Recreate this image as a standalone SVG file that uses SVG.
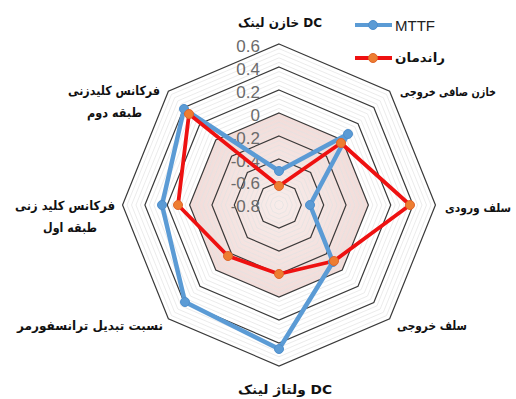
<svg xmlns="http://www.w3.org/2000/svg" xmlns:xlink="http://www.w3.org/1999/xlink" width="516" height="399" viewBox="0 0 516 399">
<style>
.bg{fill:#ffffff}
.major{fill:none;stroke:#3a3a3a;stroke-width:1.2}
.minor{fill:none;stroke:#e2e2e2;stroke-width:0.7}
.tick{font-family:"Liberation Sans",Arial,sans-serif;font-size:17px;fill:#6b6b6b;text-anchor:end}
.cat{font-family:"DejaVu Sans",sans-serif;font-size:12.5px;font-weight:bold;fill:#111111}
.catr{font-family:"DejaVu Sans",sans-serif;font-size:11.5px;font-weight:bold;fill:#111111}
.leg{font-family:"Liberation Sans",Arial,sans-serif;font-size:15px;fill:#222222}
.blue{fill:none;stroke:#5b9bd5;stroke-width:4.5;stroke-linejoin:round}
.red{fill:none;stroke:#ee1111;stroke-width:3.8;stroke-linejoin:round}
.bm{fill:#5b9bd5;stroke:#4f8fcc;stroke-width:1}
.rm{fill:#ed7d31;stroke:#e0652a;stroke-width:1}
</style>
<defs>
<polygon id="oct" points="0,-1 0.70711,-0.70711 1,0 0.70711,0.70711 0,1 -0.70711,0.70711 -1,0 -0.70711,-0.70711" vector-effect="non-scaling-stroke"/>
<radialGradient id="pink" cx="0.5" cy="0.5" r="0.5">
<stop offset="0" stop-color="#f8ecea"/>
<stop offset="1" stop-color="#f2dcd9"/>
</radialGradient>
</defs>
<rect class="bg" x="0" y="0" width="516" height="399"/>
<g id="plot-area">
<use xlink:href="#oct" href="#oct" transform="translate(279,205) scale(89.4,92)" fill="url(#pink)" stroke="none"/>
<g id="minor-grid" class="minor">
<use href="#oct" transform="translate(279,205) scale(4.47,4.6)"/>
<use href="#oct" transform="translate(279,205) scale(8.94,9.2)"/>
<use href="#oct" transform="translate(279,205) scale(13.41,13.8)"/>
<use href="#oct" transform="translate(279,205) scale(17.88,18.4)"/>
<use href="#oct" transform="translate(279,205) scale(26.82,27.6)"/>
<use href="#oct" transform="translate(279,205) scale(31.29,32.2)"/>
<use href="#oct" transform="translate(279,205) scale(35.76,36.8)"/>
<use href="#oct" transform="translate(279,205) scale(40.23,41.4)"/>
<use href="#oct" transform="translate(279,205) scale(49.17,50.6)"/>
<use href="#oct" transform="translate(279,205) scale(53.64,55.2)"/>
<use href="#oct" transform="translate(279,205) scale(58.11,59.8)"/>
<use href="#oct" transform="translate(279,205) scale(62.58,64.4)"/>
<use href="#oct" transform="translate(279,205) scale(71.52,73.6)"/>
<use href="#oct" transform="translate(279,205) scale(75.99,78.2)"/>
<use href="#oct" transform="translate(279,205) scale(80.46,82.8)"/>
<use href="#oct" transform="translate(279,205) scale(84.93,87.4)"/>
<use href="#oct" transform="translate(279,205) scale(93.87,96.6)"/>
<use href="#oct" transform="translate(279,205) scale(98.34,101.2)"/>
<use href="#oct" transform="translate(279,205) scale(102.81,105.8)"/>
<use href="#oct" transform="translate(279,205) scale(107.28,110.4)"/>
<use href="#oct" transform="translate(279,205) scale(116.22,119.6)"/>
<use href="#oct" transform="translate(279,205) scale(120.69,124.2)"/>
<use href="#oct" transform="translate(279,205) scale(125.16,128.8)"/>
<use href="#oct" transform="translate(279,205) scale(129.63,133.4)"/>
<use href="#oct" transform="translate(279,205) scale(138.57,142.6)"/>
<use href="#oct" transform="translate(279,205) scale(143.04,147.2)"/>
<use href="#oct" transform="translate(279,205) scale(147.51,151.8)"/>
<use href="#oct" transform="translate(279,205) scale(151.98,156.4)"/>
</g>
<g id="major-grid" class="major">
<use href="#oct" transform="translate(279,205) scale(22.35,23)"/>
<use href="#oct" transform="translate(279,205) scale(44.7,46)"/>
<use href="#oct" transform="translate(279,205) scale(67.05,69)"/>
<use href="#oct" transform="translate(279,205) scale(89.4,92)"/>
<use href="#oct" transform="translate(279,205) scale(111.75,115)"/>
<use href="#oct" transform="translate(279,205) scale(134.1,138)"/>
<use href="#oct" transform="translate(279,205) scale(156.45,161)"/>
</g>
<g id="axis-ticks">
<text class="tick" x="260" y="52">0.6</text>
<text class="tick" x="260" y="75">0.4</text>
<text class="tick" x="260" y="98">0.2</text>
<text class="tick" x="260" y="120.5">0</text>
<text class="tick" x="260" y="143.5">-0.2</text>
<text class="tick" x="260" y="166.5">-0.4</text>
<text class="tick" x="260" y="189">-0.6</text>
<text class="tick" x="260" y="212">-0.8</text>
</g>
</g>
<g id="connectors">
<polygon id="series-mttf" class="blue" points="279,171 348,134 310,205 333,262 279,349 185,302 162,205 184,109"/>
<polygon id="series-efficiency" class="red" points="279,186 341,143 410,205 334,261 279,274 228,256 178,205 189,114"/>
</g>
<g id="markers-mttf">
<circle class="bm" cx="279" cy="171" r="4.5"/>
<circle class="bm" cx="348" cy="134" r="4.5"/>
<circle class="bm" cx="310" cy="205" r="4.5"/>
<circle class="bm" cx="333" cy="262" r="4.5"/>
<circle class="bm" cx="279" cy="349" r="4.5"/>
<circle class="bm" cx="185" cy="302" r="4.5"/>
<circle class="bm" cx="162" cy="205" r="4.5"/>
<circle class="bm" cx="184" cy="109" r="4.5"/>
</g>
<g id="markers-efficiency">
<circle class="rm" cx="279" cy="186" r="4.5"/>
<circle class="rm" cx="341" cy="143" r="4.5"/>
<circle class="rm" cx="410" cy="205" r="4.5"/>
<circle class="rm" cx="334" cy="261" r="4.5"/>
<circle class="rm" cx="279" cy="274" r="4.5"/>
<circle class="rm" cx="228" cy="256" r="4.5"/>
<circle class="rm" cx="178" cy="205" r="4.5"/>
<circle class="rm" cx="189" cy="114" r="4.5"/>
</g>
<g id="label-dc-link-cap"><text class="cat" x="238" y="27" textLength="84" lengthAdjust="spacingAndGlyphs">خازن لینک DC</text></g>
<g id="label-output-filter-cap"><text class="catr" x="400" y="96" textLength="96" lengthAdjust="spacingAndGlyphs">خازن صافی خروجی</text></g>
<g id="label-input-inductor"><text class="catr" x="445" y="212" textLength="66" lengthAdjust="spacingAndGlyphs">سلف ورودی</text></g>
<g id="label-output-inductor"><text class="cat" x="397" y="330" textLength="70" lengthAdjust="spacingAndGlyphs">سلف خروجی</text></g>
<g id="label-dc-link-voltage"><text class="cat" x="238" y="394" textLength="94" lengthAdjust="spacingAndGlyphs">ولتاژ لینک DC</text></g>
<g id="label-transformer-ratio"><text class="cat" x="17" y="330" textLength="146" lengthAdjust="spacingAndGlyphs">نسبت تبدیل ترانسفورمر</text></g>
<g id="label-stage1-freq"><text class="cat" x="15" y="210" textLength="100" lengthAdjust="spacingAndGlyphs">فرکانس کلید زنی</text><text class="cat" x="43" y="232" textLength="54" lengthAdjust="spacingAndGlyphs">طبقه اول</text></g>
<g id="label-stage2-freq"><text class="cat" x="68" y="95" textLength="92" lengthAdjust="spacingAndGlyphs">فرکانس کلیدزنی</text><text class="cat" x="87" y="117" textLength="55" lengthAdjust="spacingAndGlyphs">طبقه دوم</text></g>
<g id="legend">
<g id="legend-mttf"><line x1="355" y1="25" x2="392" y2="25" stroke="#5b9bd5" stroke-width="4"/><circle class="bm" cx="373" cy="25" r="4.5"/><text class="leg" x="395" y="30.5">MTTF</text></g>
<g id="legend-efficiency"><line x1="355" y1="58" x2="392" y2="58" stroke="#ee1111" stroke-width="4"/><circle class="rm" cx="373" cy="58" r="4.5"/><text class="cat" x="395" y="62" textLength="50" lengthAdjust="spacingAndGlyphs">راندمان</text></g>
</g>
</svg>
